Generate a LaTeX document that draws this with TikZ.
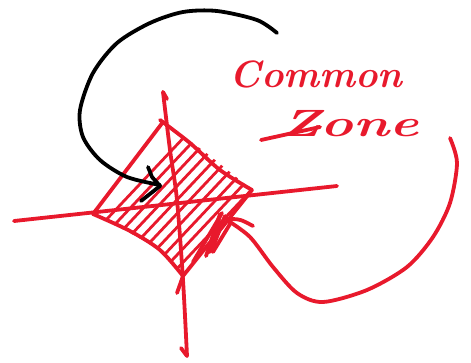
\documentclass[tikz,border=0pt]{standalone}
\usepackage{fontspec}
\setmainfont{Latin Modern Roman}
\definecolor{pen}{HTML}{E8192C}
\begin{document}
\begin{tikzpicture}[x=1pt,y=-1pt,
  redstroke/.style={draw=pen,line width=3.8pt,line cap=round,line join=round},
  hatch/.style={draw=pen,line width=2.8pt,line cap=round},
  blackstroke/.style={draw=black,line width=3.8pt,line cap=round,line join=round},
  handtext/.style={text=pen,font=\bfseries\itshape\fontsize{38}{38}\selectfont,inner sep=0pt}]
\useasboundingbox (0,0) rectangle (471,362);
% named points of the diamond
\coordinate (L) at (93,214);
\coordinate (T) at (163,122);
\coordinate (R) at (252,190);
\coordinate (B) at (183,276);
% hatching clipped to the diamond
\begin{scope}
  \clip plot[smooth] coordinates {(L) (128,168) (T)} -- plot[smooth] coordinates {(T) (205,152) (R)} -- (B) -- plot[smooth] coordinates {(B) (158,250) (128,232) (L)} -- cycle;
  \foreach \i in {0,...,15}
    \draw[hatch] (40+\i*13,290) -- ++(165,-175);
\end{scope}
% diamond edges
\draw[redstroke] (L) -- (T);
\draw[redstroke] plot[smooth] coordinates {(160,120) (190,143) (220,170) (R)};
\draw[redstroke] (R) -- (B) -- (177,293);
\draw[redstroke] plot[smooth] coordinates {(L) (130,231) (160,250) (B)};
% axes
\coordinate (hx0) at (14,221);
\coordinate (hx1) at (337,186);
\draw[redstroke] (hx0) -- (hx1);
\draw[redstroke] plot[smooth] coordinates {(163,92) (170,150) (177,200) (183,280) (187,356)};
\draw[redstroke] (163,92) -- (167,99);
\draw[redstroke] (181,348) -- (187,356);
% scribble near the right arrowhead
\draw[redstroke] (193,262) -- (222,213);
\draw[redstroke] (206,256) -- (220,214) -- (213,247) -- (225,216) -- (210,252);
\draw[redstroke] (213,252) -- (230,224);
% red loop arrow
\draw[redstroke] plot[smooth] coordinates {(450,138) (457,163) (450,203) (433,237) (407,267) (367,290) (323,302) (297,293) (273,267) (250,237) (227,220)};
\draw[redstroke] (253,226) .. controls (240,219) .. (226,219);
% black arrow
\draw[blackstroke] plot[smooth] coordinates {(277,33) (257,20) (217,11) (183,12) (150,23) (117,43) (93,73) (80,110) (83,137) (100,160) (127,177) (160,185)};
\draw[blackstroke] (148,167) -- (152,177) -- (160,186) -- (141,201);
% text
\node[handtext] (t1) at (316,74) {Common};
\node[handtext,xscale=1.45] (t2) at (350,124) {Zone};
\draw[redstroke] (261,140) -- (320,127);
\end{tikzpicture}
\end{document}
